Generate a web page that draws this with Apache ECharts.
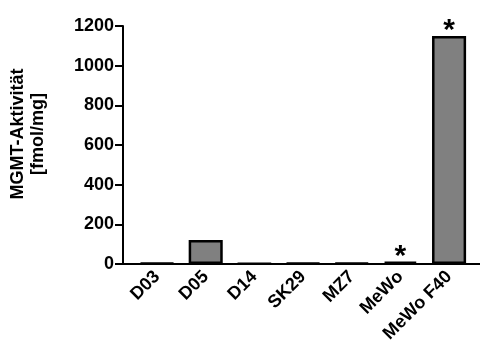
<!DOCTYPE html>
<html><head><meta charset="utf-8">
<script src="https://cdn.jsdelivr.net/npm/echarts@6/dist/echarts.min.js"></script>
<style>html,body{margin:0;padding:0;background:#fff}#c{width:480px;height:347px}</style>
</head><body><div id="c"></div>
<script>
var categories = ['D03', 'D05', 'D14', 'SK29', 'MZ7', 'MeWo', 'MeWo F40'];
var values = [5, 121, 2, 5, 5, 12, 1150];
var significance = ['', '', '', '', '', '*', '*'];
var yTicks = [0, 200, 400, 600, 800, 1000, 1200];

var FONT = '"Liberation Sans", Arial, sans-serif';
var chart = echarts.init(document.getElementById('c'), null, {renderer: 'canvas'});
chart.setOption({
  animation: false,
  backgroundColor: '#fff',
  grid: [
    {left: 132.7, right: 6.6, top: 26, bottom: 83},
    {left: 123, right: 0, top: 26, bottom: 83}
  ],
  xAxis: [{
    type: 'category', gridIndex: 0, data: categories,
    axisLine: {show: false}, axisTick: {show: false},
    axisLabel: {rotate: 45, interval: 0, margin: 10, color: '#000',
      fontFamily: FONT, fontWeight: 'bold', fontSize: 18}
  }, {
    type: 'value', gridIndex: 1, min: 0, max: 1,
    axisLine: {show: true, lineStyle: {color: '#000', width: 2}},
    axisTick: {show: false}, axisLabel: {show: false}, splitLine: {show: false}
  }],
  yAxis: [{
    type: 'value', gridIndex: 0, min: 0, max: 1200, interval: 200, offset: 9.7,
    axisLine: {show: true, lineStyle: {color: '#000', width: 2}},
    axisTick: {show: true, length: 8, lineStyle: {color: '#000', width: 2}},
    splitLine: {show: false},
    axisLabel: {margin: 9, color: '#000', fontFamily: FONT, fontWeight: 'bold', fontSize: 18,
      formatter: function (v) { return yTicks.indexOf(v) >= 0 ? String(v) : ''; }}
  }, {
    type: 'value', gridIndex: 1, show: false, min: 0, max: 1
  }],
  series: [{
    type: 'bar', xAxisIndex: 0, yAxisIndex: 0,
    data: values, barWidth: '70%',
    itemStyle: {color: '#808080', borderColor: '#000', borderWidth: 2.5},
    label: {show: true, position: 'top', distance: -10, color: '#000',
      fontFamily: FONT, fontWeight: 'bold', fontSize: 30, lineHeight: 30,
      formatter: function (p) { return significance[p.dataIndex]; }}
  }],
  graphic: [{
    type: 'text', x: 28, y: 134, rotation: Math.PI / 2,
    style: {text: 'MGMT-Aktivität\n[fmol/mg]', fill: '#000', font: 'bold 18px ' + FONT,
      textAlign: 'center', textVerticalAlign: 'middle', lineHeight: 20}
  }]
});
</script></body></html>
